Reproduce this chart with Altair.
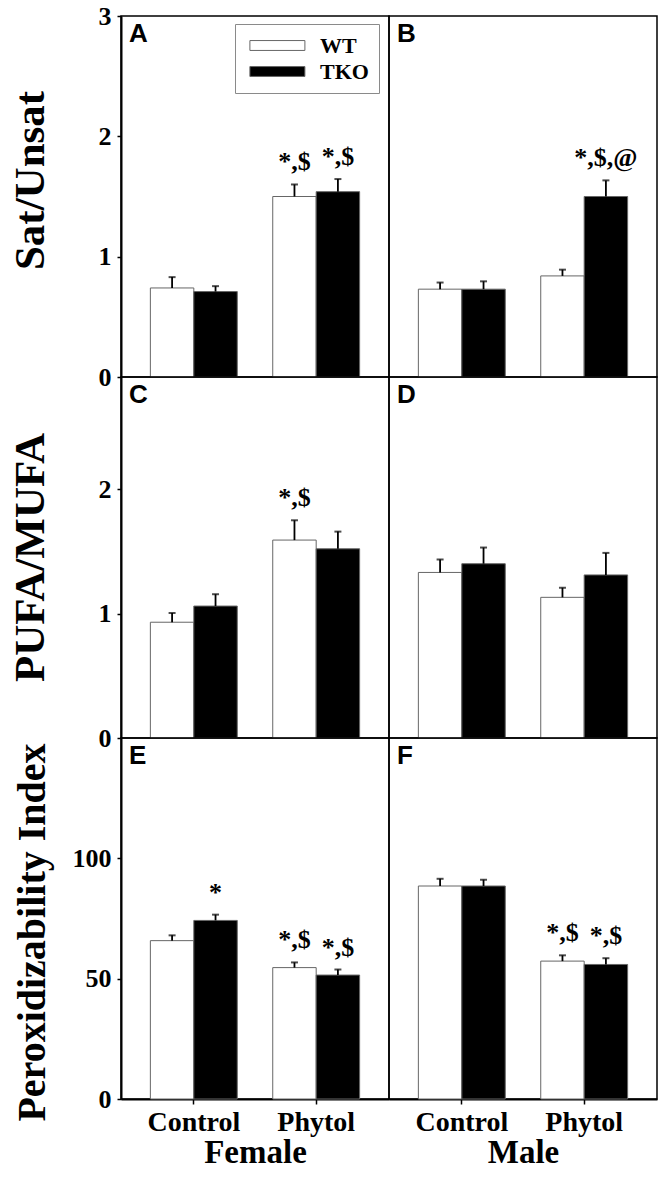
import altair as alt
import pandas as pd

diets = ["Control", "Phytol"]
genotypes = ["WT", "TKO"]

# value order in every panel: Control-WT, Control-TKO, Phytol-WT, Phytol-TKO
means_A = [0.74, 0.71, 1.50, 1.54]
errs_A = [0.09, 0.045, 0.10, 0.105]
notes_A = ["", "", "*,$", "*,$"]

means_B = [0.73, 0.73, 0.84, 1.50]
errs_B = [0.055, 0.065, 0.052, 0.134]
notes_B = ["", "", "", "*,$,@"]

means_C = [0.93, 1.06, 1.59, 1.52]
errs_C = [0.074, 0.095, 0.159, 0.138]
notes_C = ["", "", "*,$", ""]

means_D = [1.33, 1.40, 1.13, 1.31]
errs_D = [0.104, 0.13, 0.077, 0.177]
notes_D = ["", "", "", ""]

means_E = [65.8, 74.2, 54.6, 51.5]
errs_E = [2.2, 2.4, 2.15, 2.3]
notes_E = ["", "*", "*,$", "*,$"]

means_F = [88.5, 88.5, 57.3, 55.9]
errs_F = [3.0, 2.6, 2.4, 2.6]
notes_F = ["", "", "*,$", "*,$"]

metrics = ["Sat/Unsat", "PUFA/MUFA", "Peroxidizability Index"]
sexes = ["Female", "Male"]
y_max = [3, 2.9, 150]
y_ticks = [[0, 1, 2, 3], [0, 1, 2], [0, 50, 100]]

SERIF = "Liberation Serif"
SANS = "Liberation Sans"
PW, PH = 268, 361
TITLE_SIZE = [43, 43, 40]
TITLE_Y = [164, 180, 194]


def panel(letter, row, col, means, errs, notes):
    metric = metrics[row]
    sex = sexes[col]
    left = col == 0
    bottom = row == 2
    df = pd.DataFrame({
        "Diet": [d for d in diets for g in genotypes],
        "Genotype": [g for d in diets for g in genotypes],
        "Mean": means,
        "Err": errs,
        "Note": notes,
    })
    base = alt.Chart(df).transform_calculate(Top="datum.Mean + datum.Err")

    if bottom:
        xaxis = alt.Axis(title=sex, labelAngle=0, labelFont=SERIF, labelFontSize=28,
                         labelFontWeight="bold", labelColor="black", labelPadding=4,
                         tickSize=5, tickColor="black", tickWidth=1.5,
                         domainColor="black", domainWidth=2,
                         titleFont=SERIF, titleFontSize=33, titleFontWeight="bold",
                         titleColor="black", titlePadding=0)
    else:
        xaxis = None
    xenc = alt.X("Diet:N", sort=diets,
                 scale=alt.Scale(domain=diets, paddingInner=0.29, paddingOuter=0.24),
                 axis=xaxis)
    xoff = alt.XOffset("Genotype:N", sort=genotypes,
                       scale=alt.Scale(domain=genotypes, paddingInner=0, paddingOuter=0))
    yscale = alt.Scale(domain=[0, y_max[row]], nice=False, zero=True)
    if left:
        yaxis = alt.Axis(values=y_ticks[row], title=metric, format="d",
                         titleFont=SERIF, titleFontSize=TITLE_SIZE[row],
                         titleFontWeight="bold", titleColor="black", titlePadding=9,
                         titleY=TITLE_Y[row],
                         labelFont=SERIF, labelFontSize=26, labelFontWeight="bold",
                         labelColor="black", labelPadding=6, labelOverlap=False,
                         tickSize=4, tickColor="black", tickWidth=1.5,
                         domainColor="black", domainWidth=2, grid=False,
                         minExtent=60, maxExtent=60)
    else:
        yaxis = None

    if letter == "A":
        leg = alt.Legend(orient="none", legendX=114, legendY=8, title=None,
                         direction="vertical",
                         strokeColor="#8a8a8a", padding=10, rowPadding=3,
                         symbolType="M-0.6,-0.45L4.4,-0.45L4.4,0.45L-0.6,0.45Z",
                         symbolSize=484, symbolStrokeColor="#666666",
                         symbolStrokeWidth=1, symbolOpacity=1,
                         labelFont=SERIF, labelFontSize=22, labelFontWeight="bold",
                         labelColor="black", labelOffset=52)
    else:
        leg = None

    bars = base.mark_bar(stroke="#666666", strokeWidth=1).encode(
        x=xenc, xOffset=xoff,
        y=alt.Y("Mean:Q", scale=yscale, axis=yaxis),
        fill=alt.Fill("Genotype:N", sort=genotypes,
                      scale=alt.Scale(domain=genotypes, range=["white", "black"]),
                      legend=leg),
    )
    rule = base.mark_rule(color="black", strokeWidth=1.8).encode(
        x=xenc, xOffset=xoff,
        y=alt.Y("Mean:Q", scale=yscale, axis=yaxis), y2="Top:Q")
    cap = base.mark_tick(color="black", thickness=2, size=7).encode(
        x=xenc, xOffset=xoff,
        y=alt.Y("Top:Q", scale=yscale, axis=yaxis))
    text = base.mark_text(font=SERIF, fontWeight="bold", fontSize=26,
                          baseline="alphabetic", dy=-14, color="black").encode(
        x=xenc, xOffset=xoff,
        y=alt.Y("Top:Q", scale=yscale, axis=yaxis), text="Note:N")
    lab = alt.Chart(pd.DataFrame({"Panel": [letter]})).mark_text(
        font=SANS, fontWeight="bold", fontSize=26, align="left", baseline="top",
        color="black").encode(x=alt.value(8), y=alt.value(5), text="Panel:N")

    return alt.layer(bars, rule, cap, text, lab).properties(width=PW, height=PH)


panels = [
    panel("A", 0, 0, means_A, errs_A, notes_A),
    panel("B", 0, 1, means_B, errs_B, notes_B),
    panel("C", 1, 0, means_C, errs_C, notes_C),
    panel("D", 1, 1, means_D, errs_D, notes_D),
    panel("E", 2, 0, means_E, errs_E, notes_E),
    panel("F", 2, 1, means_F, errs_F, notes_F),
]

chart = alt.concat(*panels, columns=2, spacing=0, bounds="flush").resolve_scale(
    x="independent", y="independent", fill="independent"
).resolve_legend(fill="independent").properties(
    padding={"left": 0, "top": -6, "right": 1, "bottom": -7}
).configure_view(stroke="black", strokeWidth=1.5)

chart.save("out.html", embed_options={"renderer": "svg", "actions": False})
